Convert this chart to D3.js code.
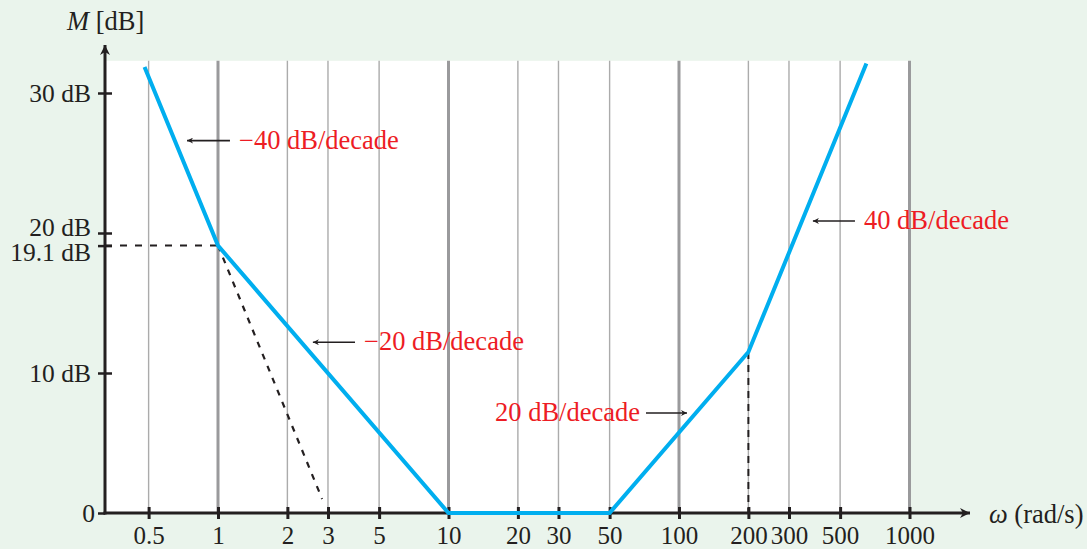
<!DOCTYPE html>
<html><head><meta charset="utf-8">
<script src="https://cdn.jsdelivr.net/npm/d3@7"></script>
<style>
html,body{margin:0;padding:0;background:#eaf4ec;}
svg{display:block;}
text{font-family:"Liberation Serif","Times New Roman",serif;}
</style></head>
<body>
<svg id="chart" width="1087" height="549"></svg>
<script>
// ---- data ----
const freqTicks = [0.5, 1, 2, 3, 5, 10, 20, 30, 50, 100, 200, 300, 500, 1000];
const freqLabels = ["0.5","1","2","3","5","10","20","30","50","100","200","300","500","1000"];
const decadeTicks = [1, 10, 100, 1000];
const dbTicks = [0, 10, 19.1, 20, 30];
const dbLabels = ["0","10 dB","19.1 dB","20 dB","30 dB"];
const asymW = [0.48, 1, 10, 50, 200, 650];
const asymM = [31.85, 19.1, 0, 0, 11.5, 32.1];
const slopeExtW = [1, 2.83];
const slopeExtM = [19.1, 1.0];
const annLabels = ["\u221240 dB/decade","\u221220 dB/decade","20 dB/decade","40 dB/decade"];
const annTipW = [0.734, 2.58, 108.3, 381];
const annTailW = [1.127, 3.93, 71.9, 580];
const annM = [26.6, 12.2, 7.14, 20.86];

// ---- scales ----
const svg = d3.select("#chart");
const x = d3.scaleLog().domain([1, 1000]).range([218, 909.5]);
const y = d3.scaleLinear().domain([0, 10]).range([513, 373]);
const plotLeft = 105, plotRight = x(1000), plotTop = y(32.3), plotBottom = y(0);
const ink = "#231f20", blue = "#00aeef", red = "#ed1c24";
const fs = 26.5;

// plot area
svg.append("rect").attr("x", plotLeft).attr("y", plotTop)
  .attr("width", plotRight - plotLeft).attr("height", plotBottom - plotTop).attr("fill", "#fff");

// grid
svg.append("g").selectAll("line").data(freqTicks).join("line")
  .attr("x1", d => x(d)).attr("x2", d => x(d))
  .attr("y1", plotTop).attr("y2", plotBottom)
  .attr("stroke", d => decadeTicks.includes(d) ? "#9a9a9c" : "#ababab")
  .attr("stroke-width", d => decadeTicks.includes(d) ? 3 : 1.4);

// defs for arrows
const defs = svg.append("defs");
defs.append("marker").attr("id","ah").attr("viewBox","0 0 10 10").attr("refX",10).attr("refY",5)
  .attr("markerWidth",8).attr("markerHeight",6).attr("markerUnits","userSpaceOnUse").attr("orient","auto")
  .append("path").attr("d","M0,0 L10,5 L0,10 L3,5 Z").attr("fill", ink);
defs.append("marker").attr("id","axh").attr("viewBox","0 0 10 10").attr("refX",10).attr("refY",5)
  .attr("markerWidth",16).attr("markerHeight",10).attr("markerUnits","userSpaceOnUse").attr("orient","auto")
  .append("path").attr("d","M0,0 L10,5 L0,10 L3,5 Z").attr("fill", ink);

// x axis
const xAxis = d3.axisBottom(x).tickValues(freqTicks).tickFormat((d,i) => freqLabels[i]).tickSize(6).tickPadding(14);
const gx = svg.append("g").attr("transform", `translate(0,${plotBottom})`).call(xAxis);
gx.select(".domain").remove();
gx.selectAll(".tick line").attr("y1", -6).attr("y2", 6).attr("stroke", ink).attr("stroke-width", 3);
gx.selectAll(".tick text").attr("font-size", 25).attr("fill", ink).attr("font-family","Liberation Serif")
  .attr("y", 31).attr("dy", "0");
svg.append("line").attr("x1", plotLeft - 1.5).attr("x2", 970).attr("y1", plotBottom).attr("y2", plotBottom)
  .attr("stroke", ink).attr("stroke-width", 3).attr("marker-end", "url(#axh)");

// y axis
const yAxis = d3.axisLeft(y).tickValues(dbTicks).tickFormat((d,i) => dbLabels[i]).tickSize(7).tickPadding(12);
const gy = svg.append("g").attr("transform", `translate(${plotLeft},0)`).call(yAxis);
gy.select(".domain").remove();
gy.selectAll(".tick line").attr("x1", -7).attr("x2", d => d === 0 ? 0 : 7).attr("stroke", ink).attr("stroke-width", 2.5);
const labelNudge = {0: [9, 0], 10: [5, 0], 19.1: [5, 6.5], 20: [5, -5.5], 30: [5, 0]};
gy.selectAll(".tick text").attr("font-size", 25.5).attr("fill", ink).attr("font-family","Liberation Serif")
  .attr("dx", d => labelNudge[d][0]).attr("dy", d => (0.33*25.5 + labelNudge[d][1]) + "px");
svg.append("line").attr("x1", plotLeft).attr("x2", plotLeft).attr("y1", plotBottom + 1.5).attr("y2", 45)
  .attr("stroke", ink).attr("stroke-width", 3).attr("marker-end", "url(#axh)");

// dashed guides
svg.append("line").attr("x1", plotLeft).attr("x2", x(1)).attr("y1", y(19.1)).attr("y2", y(19.1))
  .attr("stroke", ink).attr("stroke-width", 2).attr("stroke-dasharray", "7,8");
svg.append("path").datum(d3.zip(slopeExtW, slopeExtM))
  .attr("d", d3.line().x(d => x(d[0])).y(d => y(d[1])))
  .attr("fill","none").attr("stroke", ink).attr("stroke-width", 2.2).attr("stroke-dasharray", "6,7");
svg.append("line").attr("x1", x(200)).attr("x2", x(200)).attr("y1", y(11.5)).attr("y2", plotBottom)
  .attr("stroke", ink).attr("stroke-width", 2).attr("stroke-dasharray", "7,6");

// asymptotic curve
svg.append("path").datum(d3.zip(asymW, asymM))
  .attr("d", d3.line().x(d => x(d[0])).y(d => y(d[1])))
  .attr("fill","none").attr("stroke", blue).attr("stroke-width", 4).attr("stroke-linejoin","miter");

// annotations
annLabels.forEach((lab, i) => {
  const tip = x(annTipW[i]), tail = x(annTailW[i]), yy = y(annM[i]);
  svg.append("line").attr("x1", tail).attr("x2", tip).attr("y1", yy).attr("y2", yy)
    .attr("stroke", ink).attr("stroke-width", 1.6).attr("marker-end","url(#ah)");
  const leftSide = tail < tip;
  svg.append("text").attr("x", leftSide ? tail - 6 : tail + 9).attr("y", yy + 8)
    .attr("text-anchor", leftSide ? "end" : "start")
    .attr("font-size", fs).attr("fill", red).text(lab);
});

// axis titles
const mt = svg.append("text").attr("x", 67).attr("y", 30).attr("font-size", fs).attr("fill", ink);
mt.append("tspan").attr("font-style","italic").text("M");
mt.append("tspan").text(" [dB]");
const wt = svg.append("text").attr("x", 989).attr("y", 523).attr("font-size", fs).attr("fill", ink);
wt.append("tspan").attr("font-style","italic").text("\u03c9");
wt.append("tspan").text(" (rad/s)");
</script>
</body></html>
